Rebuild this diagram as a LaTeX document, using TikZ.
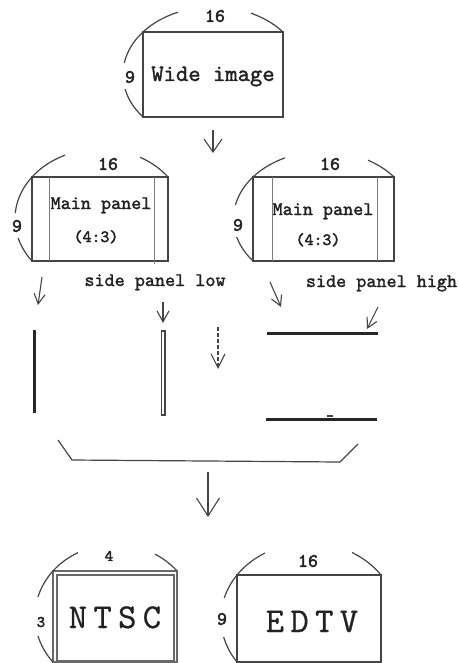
\documentclass[tikz,border=0pt]{standalone}
\usepackage{fontspec}
\setmainfont{Liberation Mono}
\newfontfamily\courb{lmmono10-regular.otf}[FakeBold=1.6]
\newfontfamily\courbb{lmmono10-regular.otf}[FakeBold=2.6]
\newfontfamily\cour{lmmono10-regular.otf}[FakeBold=0.6,LetterSpace=18]
\usetikzlibrary{arrows.meta}
\definecolor{ink}{HTML}{222222}
\definecolor{ln}{HTML}{444444}
\newcommand\ellarc[6]{\draw[arcline] plot[domain=#5:#6,samples=40,variable=\t] ({#1+#3*cos(\t)},{#2+#4*sin(\t)});}
\begin{document}
\begin{tikzpicture}[x=1pt,y=-1pt,
  frame/.style={draw=ln, line width=1.2pt, inner sep=0pt},
  arcline/.style={draw=ln, line width=1.2pt},
  inline/.style={draw=ln!70, line width=1pt},
  num/.style={font=\courbb\fontsize{19}{19}\selectfont, text=ink, inner sep=0pt},
  lbl/.style={font=\courb\fontsize{19.2}{19}\selectfont, text=ink, anchor=base, inner sep=0pt},
  small/.style={font=\courbb\fontsize{17}{17}\selectfont, text=ink, anchor=base, inner sep=0pt},
  big/.style={font=\cour\fontsize{35}{35}\selectfont, text=ink, anchor=base, inner sep=0pt},
  arr/.style={draw=ln, line width=1.1pt, -{Straight Barb[length=10pt,width=11pt]}},
  bar/.style={draw=black!85, line width=3pt},
]
\useasboundingbox (0,0) rectangle (458,663);

% ---- top box
\node[frame, minimum width=140pt, minimum height=85pt] (wide) at (213,74.5) {};
\node[font=\courb\fontsize{23.5}{24}\selectfont, text=ink, anchor=base, inner sep=0pt] (widetxt) at (213,81) {Wide image};
\ellarc{213}{74.5}{90}{67.6}{218.95}{247.1}
\ellarc{213}{74.5}{90}{67.6}{295.0}{321.05}
\ellarc{213}{74.5}{90}{67.6}{189.8}{218.95}
\ellarc{213}{74.5}{90}{67.6}{141.05}{167.6}
\node[num] (w16) at (215,16) {16};
\node[num] (w9) at (130,77) {9};

% ---- middle left box
\node[frame, minimum width=136pt, minimum height=84pt] (mpl) at (100,219) {};
\draw[inline] (49,177) -- (49,261);
\draw[inline] (154,177) -- (154,264);
\node[lbl] (mpltxt) at (101,209) {Main panel};
\node[small] (mplr) at (96,242) {(4:3)};
\ellarc{100}{219}{85}{70}{216.87}{245.7}
\ellarc{100}{219}{85}{70}{298.1}{323.13}
\ellarc{100}{219}{85}{70}{184.9}{216.87}
\ellarc{100}{219}{85}{70}{143.13}{164.25}
\node[num] (l16) at (108,164) {16};
\node[num] (l9) at (17,226) {9};

% ---- middle right box
\node[frame, minimum width=141pt, minimum height=84pt] (mpr) at (323.5,219) {};
\draw[inline] (272,177) -- (272,261);
\draw[inline] (377,177) -- (377,261);
\node[lbl] (mprtxt) at (323,215) {Main panel};
\node[small] (mprr) at (318,245) {(4:3)};
\ellarc{323.5}{219}{90}{67.6}{218.42}{244.67}
\ellarc{323.5}{219}{90}{67.6}{299.63}{321.58}
\ellarc{323.5}{219}{90}{67.6}{191.95}{218.42}
\ellarc{323.5}{219}{90}{67.6}{141.58}{164.56}
\node[num] (r16) at (330,164) {16};
\node[num] (r9) at (238,225) {9};

% ---- labels
\node[lbl] (splow) at (155,286) {side panel low};
\node[lbl] (sphigh) at (381.5,287) {side panel high};

% ---- arrows
\coordinate (a1s) at (213,130); \coordinate (a1e) at (213,153);
\draw[arr, -{Straight Barb[length=13pt,width=18pt]}] (a1s) -- (a1e);
\coordinate (a2s) at (42,277); \coordinate (a2e) at (38,305);
\draw[arr] (a2s) -- (a2e);
\coordinate (a3s) at (163,302); \coordinate (a3e) at (163,323);
\draw[arr, -{Straight Barb[length=11pt,width=12pt]}] (a3s) -- (a3e);
\coordinate (a4s) at (218,327); \coordinate (a4e) at (218,369);
\draw[arr, dashed, dash pattern=on 4pt off 2pt, -{Straight Barb[length=14pt,width=14pt]}] (a4s) -- (a4e);
\coordinate (a5s) at (270,282); \coordinate (a5e) at (281,307);
\draw[arr] (a5s) -- (a5e);
\coordinate (a6s) at (378,307); \coordinate (a6e) at (367,329);
\draw[arr] (a6s) -- (a6e);
\coordinate (a7s) at (208,472); \coordinate (a7e) at (208,517);
\draw[arr, -{Straight Barb[length=18pt,width=23pt]}] (a7s) -- (a7e);

% ---- panels
\coordinate (vb1t) at (34.5,330); \coordinate (vb1b) at (34.5,413);
\draw[bar] (vb1t) -- (vb1b);
\coordinate (vb2t) at (161.5,331); \coordinate (vb2b) at (165,415);
\draw[draw=ln, line width=1.1pt] (vb2t) rectangle (vb2b);
\coordinate (hb1l) at (267,333); \coordinate (hb1r) at (378,333);
\draw[bar] (hb1l) -- (hb1r);
\coordinate (hb2l) at (266,419); \coordinate (hb2r) at (377,419);
\draw[bar] (hb2l) -- (hb2r);
\coordinate (tk1) at (327,416); \coordinate (tk2) at (333,416);
\draw[draw=ln, line width=1.3pt] (tk1) -- (tk2);

% ---- bracket
\coordinate (br1) at (58,440); \coordinate (br2) at (72,460);
\coordinate (br3) at (340,462); \coordinate (br4) at (358,444);
\draw[arcline] (br1) -- (br2) -- (br3) -- (br4);

% ---- NTSC
\node[frame, draw=ln!80, minimum width=124pt, minimum height=91pt] (ntsc) at (115,616.5) {};
\node[frame, draw=ln!80, minimum width=117pt, minimum height=86pt] (ntscin) at (115.5,618) {};
\node[big] (ntsctxt) at (115,628) {NTSC};
\ellarc{115}{616.5}{80}{72}{219.2}{242.45}
\ellarc{115}{616.5}{80}{72}{300}{320.8}
\ellarc{115}{616.5}{80}{72}{195.7}{219.2}
\ellarc{115}{616.5}{80}{72}{140.8}{164.3}
\node[num, font=\courbb\fontsize{16}{16}\selectfont] (n4) at (109,556) {4};
\node[num, font=\courbb\fontsize{16}{16}\selectfont] (n3) at (41,622) {3};

% ---- EDTV
\node[frame, minimum width=144pt, minimum height=87pt] (edtv) at (309,618.5) {};
\node[big] (edtvtxt) at (312,632) {EDTV};
\ellarc{309}{618.5}{88}{75.6}{215.11}{240}
\ellarc{309}{618.5}{88}{75.6}{299.25}{324.89}
\ellarc{309}{618.5}{88}{75.6}{195.73}{215.11}
\ellarc{309}{618.5}{88}{75.6}{144.89}{165.84}
\node[num] (e16) at (308,561) {16};
\node[num] (e9) at (222,619) {9};
\end{tikzpicture}
\end{document}
